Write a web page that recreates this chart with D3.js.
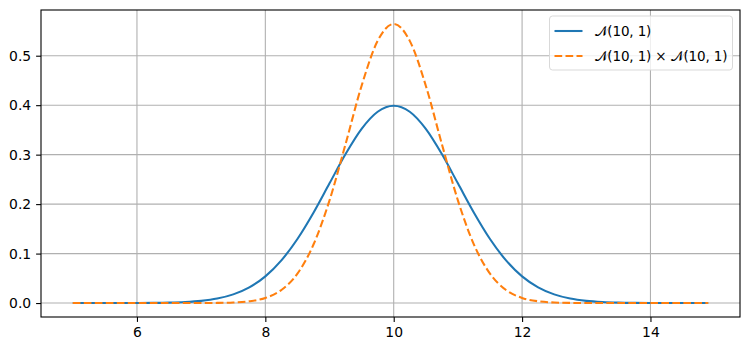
<!DOCTYPE html>
<html>
<head>
<meta charset="utf-8">
<script src="https://cdn.jsdelivr.net/npm/d3@7"></script>
<style>
  body { margin: 0; background: #fff; }
  svg { font-family: "DejaVu Sans", sans-serif; }
</style>
</head>
<body>
<div id="chart"></div>
<script>
// sample points
const xValues = [5, 5.25, 5.5, 5.75, 6, 6.25, 6.5, 6.75, 7, 7.25, 7.5, 7.75, 8, 8.25, 8.5, 8.75, 9, 9.25, 9.5, 9.75,
  10, 10.25, 10.5, 10.75, 11, 11.25, 11.5, 11.75, 12, 12.25, 12.5, 12.75, 13, 13.25, 13.5, 13.75, 14, 14.25, 14.5, 14.75, 14.9];
const singleValues = [0, 0.00001, 0.00002, 0.00005, 0.00013, 0.00035, 0.00087, 0.00203, 0.00443, 0.00909, 0.01753, 0.03174,
  0.05399, 0.08628, 0.12952, 0.18265, 0.24197, 0.30114, 0.35207, 0.38667,
  0.39894, 0.38667, 0.35207, 0.30114, 0.24197, 0.18265, 0.12952, 0.08628, 0.05399, 0.03174, 0.01753, 0.00909,
  0.00443, 0.00203, 0.00087, 0.00035, 0.00013, 0.00005, 0.00002, 0.00001, 0];
const productValues = [0, 0, 0, 0, 0, 0, 0, 0.00001, 0.00007, 0.00029, 0.00109, 0.00357,
  0.01033, 0.02639, 0.05947, 0.11826, 0.20755, 0.32146, 0.43939, 0.53001,
  0.56419, 0.53001, 0.43939, 0.32146, 0.20755, 0.11826, 0.05947, 0.02639, 0.01033, 0.00357, 0.00109, 0.00029,
  0.00007, 0.00001, 0, 0, 0, 0, 0, 0, 0];
const xTicks = [6, 8, 10, 12, 14];
const yTicks = [0, 0.1, 0.2, 0.3, 0.4, 0.5];
const seriesNames = ["\u{1D4A9}(10, 1)", "\u{1D4A9}(10, 1) \u00D7 \u{1D4A9}(10, 1)"];

const width = 749, height = 351;
const margin = {left: 41, right: 9, top: 10, bottom: 34};

const svg = d3.select("#chart").append("svg")
    .attr("width", width)
    .attr("height", height);

const x = d3.scaleLinear().domain([4.505, 15.395]).range([margin.left, width - margin.right]);
const y = d3.scaleLinear().domain([-0.0282, 0.5924]).range([height - margin.bottom, margin.top]);

// grid
svg.append("g").selectAll("line").data(xTicks).join("line")
    .attr("x1", d => x(d)).attr("x2", d => x(d))
    .attr("y1", margin.top).attr("y2", height - margin.bottom)
    .attr("stroke", "#b0b0b0").attr("stroke-width", 1.1);
svg.append("g").selectAll("line").data(yTicks).join("line")
    .attr("y1", d => y(d)).attr("y2", d => y(d))
    .attr("x1", margin.left).attr("x2", width - margin.right)
    .attr("stroke", "#b0b0b0").attr("stroke-width", 1.1);

// axes
const xAxis = d3.axisBottom(x).tickValues(xTicks).tickFormat(d3.format("d")).tickSize(4.9).tickPadding(4.9);
const yAxis = d3.axisLeft(y).tickValues(yTicks).tickFormat(d3.format(".1f")).tickSize(4.9).tickPadding(4.9);
const gx = svg.append("g").attr("transform", `translate(0,${height - margin.bottom})`).call(xAxis);
const gy = svg.append("g").attr("transform", `translate(${margin.left},0)`).call(yAxis);
[gx, gy].forEach(g => {
  g.select(".domain").remove();
  g.selectAll("line").attr("stroke", "#000").attr("stroke-width", 1.1);
  g.selectAll("text").attr("font-size", 13.9).attr("fill", "#000").attr("font-family", "DejaVu Sans");
});

// lines
const line = vals => d3.line()
    .x((d, i) => x(xValues[i]))
    .y(d => y(d))
    .curve(d3.curveMonotoneX)(vals);

svg.append("path").attr("d", line(singleValues))
    .attr("fill", "none").attr("stroke", "#1f77b4").attr("stroke-width", 2.08);
svg.append("path").attr("d", line(productValues))
    .attr("fill", "none").attr("stroke", "#ff7f0e").attr("stroke-width", 2.08)
    .attr("stroke-dasharray", "7.7,3.3");

// frame
svg.append("rect")
    .attr("x", margin.left).attr("y", margin.top)
    .attr("width", width - margin.left - margin.right)
    .attr("height", height - margin.top - margin.bottom)
    .attr("fill", "none").attr("stroke", "#000").attr("stroke-width", 1.1);

// legend
const legend = svg.append("g").attr("transform", "translate(549.5,16)");
legend.append("rect")
    .attr("width", 183).attr("height", 54).attr("rx", 3)
    .attr("fill", "#fff").attr("fill-opacity", 0.8)
    .attr("stroke", "#d9d9d9").attr("stroke-width", 1);
const items = legend.selectAll(".item").data(seriesNames).join("g")
    .attr("transform", (d, i) => `translate(0,${15 + i * 25})`);
items.append("line")
    .attr("x1", 5).attr("x2", 33)
    .attr("stroke", (d, i) => i ? "#ff7f0e" : "#1f77b4")
    .attr("stroke-width", 2.08)
    .attr("stroke-dasharray", (d, i) => i ? "7.7,3.3" : null);
items.append("text")
    .attr("x", 45).attr("y", 5)
    .attr("font-size", 13.5)
    .attr("letter-spacing", -0.15)
    .text(d => d);
</script>
</body>
</html>
